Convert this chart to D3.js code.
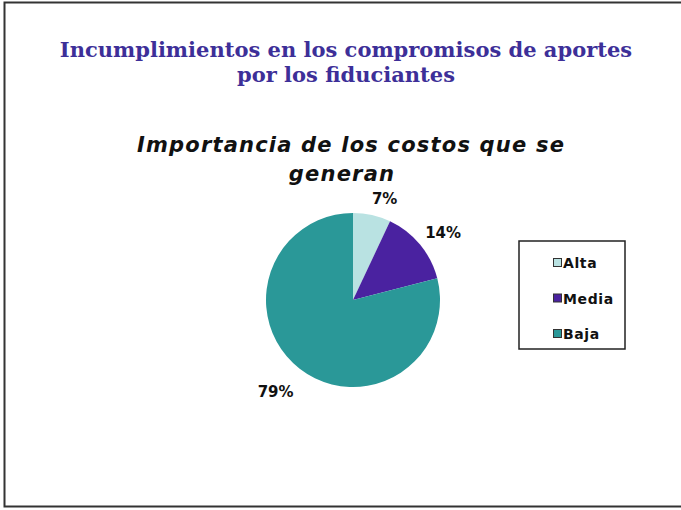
<!DOCTYPE html>
<html><head><meta charset="utf-8">
<script src="https://cdn.jsdelivr.net/npm/d3@7"></script>
<style>html,body{margin:0;padding:0;background:#fff;}svg{display:block;}</style>
</head><body>
<script>
const categories = ["Alta", "Media", "Baja"];
const values = [7, 14, 79];
const labels = ["7%", "14%", "79%"];
const colors = ["#b9e2e2", "#4a22a0", "#2a9898"];
const titleLines = ["Incumplimientos en los compromisos de aportes", "por los fiduciantes"];
const subtitleLines = ["Importancia de los costos que se", "generan"];

const W = 681, H = 510;
const svg = d3.select("body").append("svg").attr("width", W).attr("height", H);

svg.append("rect").attr("x", 4.5).attr("y", 2.5).attr("width", W + 10).attr("height", 504)
  .attr("fill", "#fff").attr("stroke", "#333").attr("stroke-width", 2);

svg.selectAll("text.title").data(titleLines).enter().append("text")
  .attr("x", 346).attr("y", (d, i) => 57 + i * 25)
  .attr("text-anchor", "middle")
  .attr("font-family", "'DejaVu Serif', serif").attr("font-weight", "bold")
  .attr("font-size", 21).attr("fill", "#3d2f98").text(d => d);

const subX = [351, 342];
svg.selectAll("text.sub").data(subtitleLines).enter().append("text")
  .attr("x", (d, i) => subX[i]).attr("y", (d, i) => 152 + i * 29)
  .attr("text-anchor", "middle")
  .attr("font-family", "'DejaVu Sans', sans-serif").attr("font-weight", "bold").attr("font-style", "italic")
  .attr("font-size", 21).attr("letter-spacing", 1.2)
  .attr("fill", "#111").text(d => d);

const cx = 353, cy = 300, r = 87;
const pie = d3.pie().sort(null).value(d => d);
const arcs = pie(values);
const arc = d3.arc().innerRadius(0).outerRadius(r);
const g = svg.append("g").attr("transform", `translate(${cx},${cy})`);
g.selectAll("path").data(arcs).enter().append("path")
  .attr("d", arc).attr("fill", (d, i) => colors[i]);

const labelOffset = [20, 26, 32.5];
const labelAngleShift = [0.08, 0.044, 0.045];
svg.selectAll("text.lab").data(arcs).enter().append("text")
  .attr("x", (d, i) => {
    const a = (d.startAngle + d.endAngle) / 2 + labelAngleShift[i];
    return cx + Math.sin(a) * (r + labelOffset[i]);
  })
  .attr("y", (d, i) => {
    const a = (d.startAngle + d.endAngle) / 2 + labelAngleShift[i];
    return cy - Math.cos(a) * (r + labelOffset[i]) + 6;
  })
  .attr("text-anchor", "middle")
  .attr("font-family", "'DejaVu Sans', sans-serif").attr("font-weight", "bold")
  .attr("font-size", 15).attr("fill", "#111").text((d, i) => labels[i]);

const leg = svg.append("g");
leg.append("rect").attr("x", 519).attr("y", 241).attr("width", 106).attr("height", 108)
  .attr("fill", "#fff").attr("stroke", "#222").attr("stroke-width", 1.5);
const ly = d3.scalePoint().domain(categories).range([263, 334]);
categories.forEach((c, i) => {
  leg.append("rect").attr("x", 553.5).attr("y", ly(c) - 4.5).attr("width", 8).attr("height", 8)
    .attr("fill", colors[i]).attr("stroke", "#333").attr("stroke-width", 1);
  leg.append("text").attr("x", 563).attr("y", ly(c) + 5)
    .attr("font-family", "'DejaVu Sans', sans-serif").attr("font-weight", "bold")
    .attr("font-size", 14).attr("letter-spacing", 0.6)
    .attr("fill", "#111").text(c);
});
</script>
</body></html>
